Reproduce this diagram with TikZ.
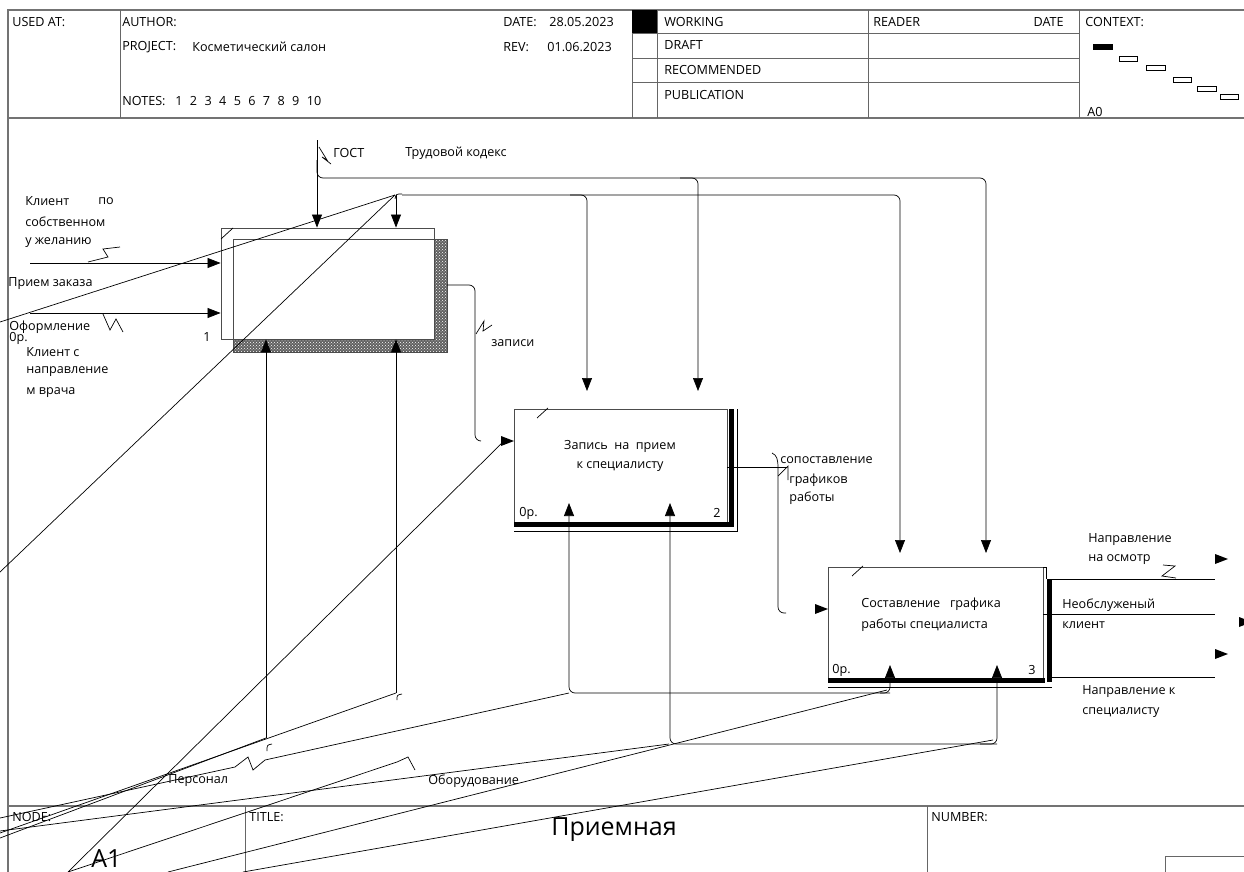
\documentclass[tikz,border=0pt]{standalone}
\usepackage{fontspec}
\setmainfont{Open Sans}
\usetikzlibrary{arrows.meta,patterns}

\tikzset{
  frameline/.style={draw=black!55, line width=1.4pt},
  cellline/.style={draw=black!60, line width=0.8pt},
  idefbox/.style={draw=black!70, line width=0.9pt, inner sep=0pt},
  wire/.style={draw=black, line width=0.7pt, rounded corners=6pt},
  arr/.style={wire, -{Triangle[length=13pt,width=10pt]}},
  txt/.style={anchor=west, inner sep=0pt},
  bigtxt/.style={inner sep=0pt, font=\fontsize{25}{30}\selectfont},
}
\newcommand{\tipright}[2]{\fill (#1,#2) -- ++(-13,-5) -- ++(0,10) -- cycle;}

\begin{document}
\begin{tikzpicture}[x=1pt, y=-1pt, line width=0.7pt, font=\fontsize{12.6}{14}\selectfont]
  \useasboundingbox (0,0) rectangle (1244,872);

  % frame and header
  \draw[frameline] (8,872) -- (8,10) -- (1244,10);
  \draw[frameline] (8,118) -- (1244,118);
  \draw[frameline] (8,806) -- (1244,806);
  \foreach \x in {120,632,657,868,1079}
    \draw[cellline] (\x,10) -- (\x,118);
  \foreach \y in {33,58,82}
    \draw[cellline] (632,\y) -- (1079,\y);
  \fill (632,10) rectangle (657,33);
  \fill (1093,44) rectangle (1113,50);
  \draw[line width=0.6pt] (1119,56) rectangle (1137,61);
  \draw[line width=0.6pt] (1146,65) rectangle (1165,70);
  \draw[line width=0.6pt] (1173,77) rectangle (1191,82);
  \draw[line width=0.6pt] (1197,86) rectangle (1216,91);
  \draw[line width=0.6pt] (1220,94) rectangle (1238,99);

  \node[txt] (usedat) at (12,22) {USED AT:};
  \node[txt] (author) at (122,22) {AUTHOR:};
  \node[txt] (project) at (122,47) {PROJECT:};
  \node[txt] (projname) at (192,47) {Косметический салон};
  \node[txt] (notes) at (122,101) {NOTES:};
  \node[txt] (notenums) at (175,101) {1\hspace{7.4pt}2\hspace{7.4pt}3\hspace{7.4pt}4\hspace{7.4pt}5\hspace{7.4pt}6\hspace{7.4pt}7\hspace{7.4pt}8\hspace{7.4pt}9\hspace{7.4pt}10};
  \node[txt] (date) at (503,22) {DATE:};
  \node[txt] (dateval) at (549,22) {28.05.2023};
  \node[txt] (rev) at (503,47) {REV:};
  \node[txt] (revval) at (547,47) {01.06.2023};
  \node[txt] (working) at (664,22) {WORKING};
  \node[txt] (draft) at (664,45) {DRAFT};
  \node[txt] (recom) at (664,70) {RECOMMENDED};
  \node[txt] (public) at (664,95) {PUBLICATION};
  \node[txt] (reader) at (873,22) {READER};
  \node[anchor=east, inner sep=0pt] (rdate) at (1064,22) {DATE};
  \node[txt] (context) at (1085,22) {CONTEXT:};
  \node[txt] (ctxnode) at (1087,112) {A0};

  % footer
  \draw[cellline] (245,806) -- (245,872);
  \draw[cellline] (927,806) -- (927,872);
  \draw[cellline] (1165,872) -- (1165,856) -- (1244,856);
  \node[txt] (nodelbl) at (12,817) {NODE:};
  \node[txt] (titlelbl) at (249,817) {TITLE:};
  \node[txt] (numberlbl) at (931,817) {NUMBER:};
  \node[bigtxt, anchor=west] (nodeval) at (91,859) {A1};
  \node[bigtxt] (titleval) at (614,830) {Приемная};

  % box 1 with hatched shadow
  \fill[black!62] (434,239) -- (447,239) -- (447,352) -- (233,352) -- (233,339) -- (434,339) -- cycle;
  \fill[pattern=crosshatch dots, pattern color=white] (434,239) -- (447,239) -- (447,352) -- (233,352) -- (233,339) -- (434,339) -- cycle;
  \draw[idefbox] (233,239) rectangle (447,352);
  \node[idefbox, minimum width=213pt, minimum height=111pt] (b1) at (327.5,283.5) {};
  \draw (221,239) -- (233,228);
  \node[txt] (b1num) at (203,337) {1};
  \node[txt] (b1cost) at (9,338) {0р.};

  % box 2
  \node[idefbox, minimum width=213pt, minimum height=113pt] (b2) at (620.5,465.5) {};
  \fill (729,409) rectangle (734,527);
  \fill (514,522) rectangle (734,527);
  \draw (737,409) -- (737,531) -- (514,531);
  \draw (537,418) -- (548,408);
  \node (b2a) at (620,446) {Запись\ \ на\ \ прием};
  \node (b2b) at (620,467) {к специалисту};
  \node[txt] (b2cost) at (519,513) {0р.};
  \node[txt] (b2num) at (713,513) {2};

  % box 3
  \node[idefbox, minimum width=215pt, minimum height=113pt] (b3) at (935.5,623.5) {};
  \draw (1043,567) -- (1046,567) -- (1046,579);
  \fill (1047,579) rectangle (1052,682);
  \fill (828,678) rectangle (1045,683);
  \draw (828,687) -- (1052,687);
  \draw (852,576) -- (863,566);
  \node[txt] (b3a) at (861,604) {Составление\ \ \ графика};
  \node[txt] (b3b) at (861,625) {работы специалиста};
  \node[txt] (b3cost) at (832,670) {0р.};
  \node[txt] (b3num) at (1028,670) {3};

  % named points on the connectors
  \coordinate (gost) at (317,140);
  \coordinate (hubA) at (395,195);
  \coordinate (ctrlB) at (396,195);
  \coordinate (inA) at (30,263);
  \coordinate (inB) at (30,313);
  \coordinate (mechA) at (266,738);
  \coordinate (mechB) at (396,693);

  % controls
  \draw[arr] (gost) -- (gost |- b1.north);
  \draw[arr] (317,160) -- (317,178) -- (986,178) -- (986,553);
  \draw[arr] (680,178) -- (698,178) -- (698,391);
  \draw[arr] (402,195) -- (900,195) -- (900,553);
  \draw[arr] (570,195) -- (587,195) -- (587,391);
  \draw[arr] (ctrlB) -- (ctrlB |- b1.north);
  \draw (395,199) .. controls (396,194) .. (402,194);
  \draw (319,147) -- (327,160) -- (322,157) -- (331,164);
  \node[txt] (gostlbl) at (333,153) {ГОСТ};
  \node[txt] (tklbl) at (405,153) {Трудовой кодекс};
  \draw (hubA) -- (0,572);
  \draw (hubA) -- (0,322);

  % inputs
  \draw[arr] (inA) -- (inA -| b1.west);
  \draw[arr] (inB) -- (inB -| b1.west);
  \draw (120,247) -- (103,249) -- (108,257) -- (88,262);
  \draw (103,314) -- (110,330) -- (116,319) -- (123,332);
  \node[txt] (in1a) at (25,201) {Клиент};
  \node[txt] (in1b) at (98,201) {по};
  \node[txt] (in1c) at (25,222) {собственном};
  \node[txt] (in1d) at (25,243) {у желанию};
  \node[txt] (in2) at (8,284) {Прием заказа};
  \node[txt] (in3) at (9,327) {Оформление};
  \node[txt] (in4a) at (26,352) {Клиент с};
  \node[txt] (in4b) at (26,372) {направление};
  \node[txt] (in4c) at (26,393) {м врача};

  % box 1 to box 2
  \draw[wire] (447,285) -- (475,285) -- (475,441) -- (481,441);
  \draw (476,334) -- (484,321) -- (483,331) -- (492,325);
  \node[txt] (rec) at (491,343) {записи};
  \draw (68,872) -- (503,442);
  \tipright{514}{441}

  % box 2 to box 3
  \draw (727,467) -- (787,467);
  \draw (772,453) .. controls (777,455) and (778,460) .. (778,468);
  \draw[wire] (778,468) -- (778,613) -- (786,613);
  \draw (778,476) -- (788,466) -- (788,480);
  \tipright{828}{609}
  \node[txt] (cmp1) at (780,460) {сопоставление};
  \node[txt] (cmp2) at (789,480) {графиков};
  \node[txt] (cmp3) at (789,498) {работы};

  % outputs
  \draw (1052,579) -- (1215,579);
  \draw (1043,614) -- (1215,614);
  \draw (1052,677) -- (1215,677);
  \tipright{1228}{559}
  \tipright{1252}{622}
  \tipright{1228}{654}
  \draw (1163,565) -- (1175,566) -- (1162,576) -- (1176,578);
  \node[txt] (out1a) at (1088,540) {Направление};
  \node[txt] (out1b) at (1088,560) {на осмотр};
  \node[txt] (out2a) at (1062,605) {Необслуженый};
  \node[txt] (out2b) at (1062,625) {клиент};
  \node[txt] (out3a) at (1082,692) {Направление к};
  \node[txt] (out3b) at (1082,713) {специалисту};

  % mechanisms
  \draw[arr] (mechA) -- (mechA |- b1.south);
  \draw[arr] (mechB) -- (mechB |- b1.south);
  \draw (267,751) .. controls (267,745) .. (272,744);
  \draw (397,700) .. controls (397,695) .. (402,694);
  \draw[arr] (890,693) -- (569,693) -- (569,503);
  \draw[arr] (880,693) -- (890,693) -- (890,665);
  \draw[arr] (997,744) -- (670,744) -- (670,503);
  \draw[arr] (980,744) -- (997,744) -- (997,665);
  \draw (mechA) -- (0,838);
  \draw (mechB) -- (0,833);
  \draw (569,693) -- (265,760) -- (253,770) -- (248,757) -- (235,767) -- (0,818);
  \draw (669,744) -- (0,831);
  \draw (68,872) -- (397,762) -- (408,757) -- (415,770);
  \draw (887,690) -- (168,872);
  \draw (993,740) -- (243,872);
  \node[txt] (staff) at (168,781) {Персонал};
  \node[txt] (equip) at (428,781) {Оборудование};
\end{tikzpicture}
\end{document}
